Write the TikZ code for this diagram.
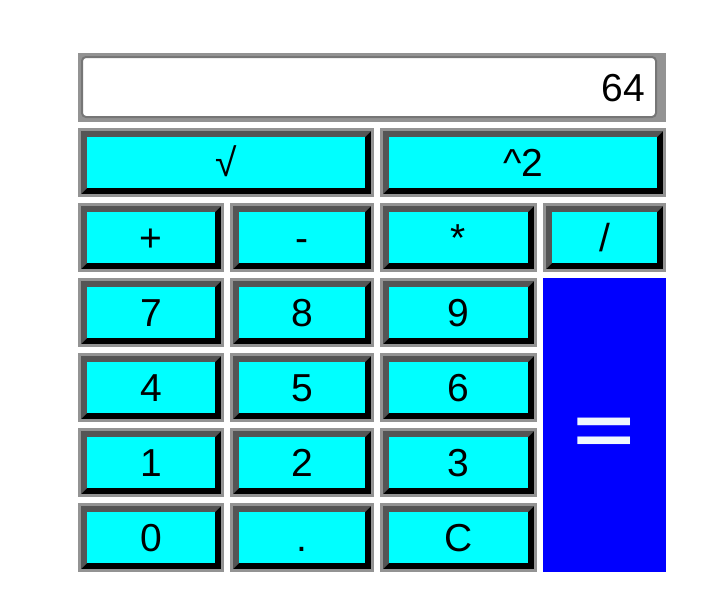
\documentclass[tikz,border=0pt]{standalone}
\usepackage{fontspec}
\setmainfont{Liberation Sans}
\definecolor{cellgray}{HTML}{939393}
\definecolor{bevdark}{HTML}{555555}
\definecolor{btncyan}{HTML}{00FFFF}
\definecolor{dispborder}{HTML}{767676}
\definecolor{eqblue}{HTML}{0000FF}
\definecolor{eqtext}{HTML}{F0F8FF}
\tikzset{
  btntext/.style={font=\fontsize{39}{40}\selectfont, anchor=base, inner sep=0pt},
  disptext/.style={font=\fontsize{39}{40}\selectfont, anchor=base east, inner sep=0pt},
  eqlabel/.style={font=\bfseries\fontsize{70}{70}\selectfont, text=eqtext, anchor=base, inner sep=0pt, xscale=1.5}
}
\newcommand\calcbtn[6]{%
 \begin{scope}[shift={(#1,#2)}]
  \pgfmathsetmacro\bw{#3-#1}\pgfmathsetmacro\bh{#4-#2}
  \fill[cellgray] (0,0) rectangle (\bw,\bh);
  \fill[black] (3,3) rectangle (\bw-3,\bh-3);
  \fill[bevdark] (3,3) -- (\bw-3,3) -- (\bw-9,9) -- (9,9) -- (9,\bh-9) -- (3,\bh-3) -- cycle;
  \fill[btncyan] (9,9) rectangle (\bw-9,\bh-9);
  \node[btntext] (#5) at (\bw/2,48) {#6};
 \end{scope}}
\begin{document}
\begin{tikzpicture}[x=1pt,y=-1pt]
\useasboundingbox (0,0) rectangle (723,597);
% display
\fill[cellgray] (78,53) rectangle (666,122);
\draw[dispborder, line width=2pt, fill=white, rounded corners=4pt] (82,57) rectangle (656,117);
\node[disptext] (disp) at (645,101) {64};
% top row
\calcbtn{78}{128}{374}{197}{bsqrt}{√}
\calcbtn{380}{128}{666}{197}{bsquare}{\textasciicircum 2}
% operators
\calcbtn{78}{203}{224}{272}{bplus}{+}
\calcbtn{230}{203}{374}{272}{bminus}{-}
\calcbtn{380}{203}{537}{272}{btimes}{*}
\calcbtn{543}{203}{666}{272}{bdiv}{/}
% digits
\calcbtn{78}{278}{224}{347}{bseven}{7}
\calcbtn{230}{278}{374}{347}{beight}{8}
\calcbtn{380}{278}{537}{347}{bnine}{9}
\calcbtn{78}{353}{224}{422}{bfour}{4}
\calcbtn{230}{353}{374}{422}{bfive}{5}
\calcbtn{380}{353}{537}{422}{bsix}{6}
\calcbtn{78}{428}{224}{497}{bone}{1}
\calcbtn{230}{428}{374}{497}{btwo}{2}
\calcbtn{380}{428}{537}{497}{bthree}{3}
\calcbtn{78}{503}{224}{572}{bzero}{0}
\calcbtn{230}{503}{374}{572}{bdot}{.}
\calcbtn{380}{503}{537}{572}{bclear}{C}
% equals
\fill[eqblue] (543,278) rectangle (666,572);
\node[eqlabel] (bequals) at (604.5,454) {=};
\end{tikzpicture}
\end{document}
